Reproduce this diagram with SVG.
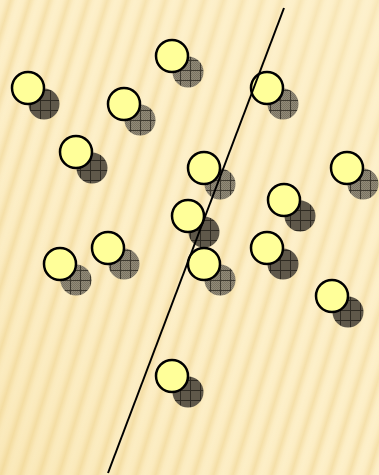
<svg xmlns="http://www.w3.org/2000/svg" width="379" height="475" viewBox="0 0 379 475">
<defs>
<linearGradient id="sg" x1="0" y1="0" x2="1" y2="0">
<stop offset="0" stop-color="#fdf0ca"/>
<stop offset="0.25" stop-color="#fcedc4"/>
<stop offset="0.55" stop-color="#f4dea6"/>
<stop offset="0.82" stop-color="#fcedc4"/>
<stop offset="1" stop-color="#fdf0ca"/>
</linearGradient>
<linearGradient id="ov" x1="0" y1="1" x2="1" y2="0">
<stop offset="0" stop-color="#f0d48a" stop-opacity="0.25"/>
<stop offset="0.5" stop-color="#fdf0ca" stop-opacity="0.1"/>
<stop offset="1" stop-color="#fdf2d0" stop-opacity="0.45"/>
</linearGradient>
<pattern id="bg" width="18.5" height="100" patternUnits="userSpaceOnUse" patternTransform="rotate(17)">
<rect width="18.5" height="100" fill="url(#sg)"/>
</pattern>
<pattern id="gridDark" width="10" height="10" patternUnits="userSpaceOnUse">
<rect width="10" height="10" fill="#5f584a"/>
<path d="M0 0.5H10M0.5 0V10" stroke="#2e2a22" stroke-width="1"/>
</pattern>
<pattern id="gridLight" width="10" height="10" patternUnits="userSpaceOnUse">
<rect width="10" height="10" fill="#918a78"/>
<path d="M1 1h1v1h-1zM3 1h1v1h-1zM5 1h1v1h-1zM7 1h1v1h-1zM9 1h1v1h-1zM2 2h1v1h-1zM4 2h1v1h-1zM6 2h1v1h-1zM8 2h1v1h-1zM1 3h1v1h-1zM3 3h1v1h-1zM5 3h1v1h-1zM7 3h1v1h-1zM9 3h1v1h-1zM2 4h1v1h-1zM4 4h1v1h-1zM6 4h1v1h-1zM8 4h1v1h-1zM1 5h1v1h-1zM3 5h1v1h-1zM5 5h1v1h-1zM7 5h1v1h-1zM9 5h1v1h-1zM2 6h1v1h-1zM4 6h1v1h-1zM6 6h1v1h-1zM8 6h1v1h-1zM1 7h1v1h-1zM3 7h1v1h-1zM5 7h1v1h-1zM7 7h1v1h-1zM9 7h1v1h-1zM2 8h1v1h-1zM4 8h1v1h-1zM6 8h1v1h-1zM8 8h1v1h-1zM1 9h1v1h-1zM3 9h1v1h-1zM5 9h1v1h-1zM7 9h1v1h-1zM9 9h1v1h-1z" fill="#7a7362"/>
<path d="M0 0.5H10M0.5 0V10" stroke="#3e3a30" stroke-width="1"/>
</pattern>
</defs>
<style>
.pt{fill:#ffff99;stroke:#000;stroke-width:2.5}
.sd{fill:url(#gridDark)}
.sl{fill:url(#gridLight)}
.sep{stroke:#000;stroke-width:2;fill:none}
</style>
<rect width="379" height="475" fill="url(#bg)"/>
<rect width="379" height="475" fill="url(#ov)"/>
<g id="n1"><circle class="sd" cx="44" cy="104" r="15.5"/><circle class="pt" cx="28" cy="88" r="16"/></g>
<g id="n2"><circle class="sl" cx="188" cy="72" r="15.5"/><circle class="pt" cx="172" cy="56" r="16"/></g>
<g id="n3"><circle class="sl" cx="140" cy="120" r="15.5"/><circle class="pt" cx="124" cy="104" r="16"/></g>
<g id="n4"><circle class="sl" cx="283" cy="104" r="15.5"/><circle class="pt" cx="267" cy="88" r="16"/></g>
<g id="n5"><circle class="sd" cx="92" cy="168" r="15.5"/><circle class="pt" cx="76" cy="152" r="16"/></g>
<g id="n6"><circle class="sl" cx="220" cy="184" r="15.5"/><circle class="pt" cx="204" cy="168" r="16"/></g>
<g id="n7"><circle class="sl" cx="363" cy="184" r="15.5"/><circle class="pt" cx="347" cy="168" r="16"/></g>
<g id="n8"><circle class="sd" cx="300" cy="216" r="15.5"/><circle class="pt" cx="284" cy="200" r="16"/></g>
<g id="n9"><circle class="sd" cx="204" cy="232" r="15.5"/><circle class="pt" cx="188" cy="216" r="16"/></g>
<g id="n10"><circle class="sl" cx="124" cy="264" r="15.5"/><circle class="pt" cx="108" cy="248" r="16"/></g>
<g id="n11"><circle class="sd" cx="283" cy="264" r="15.5"/><circle class="pt" cx="267" cy="248" r="16"/></g>
<g id="n12"><circle class="sl" cx="76" cy="280" r="15.5"/><circle class="pt" cx="60" cy="264" r="16"/></g>
<g id="n13"><circle class="sl" cx="220" cy="280" r="15.5"/><circle class="pt" cx="204" cy="264" r="16"/></g>
<g id="n14"><circle class="sd" cx="348" cy="312" r="15.5"/><circle class="pt" cx="332" cy="296" r="16"/></g>
<g id="n15"><circle class="sd" cx="188" cy="392" r="15.5"/><circle class="pt" cx="172" cy="376" r="16"/></g>
<g id="connectors"><line class="sep" x1="284" y1="8" x2="108" y2="473"/></g>
</svg>
